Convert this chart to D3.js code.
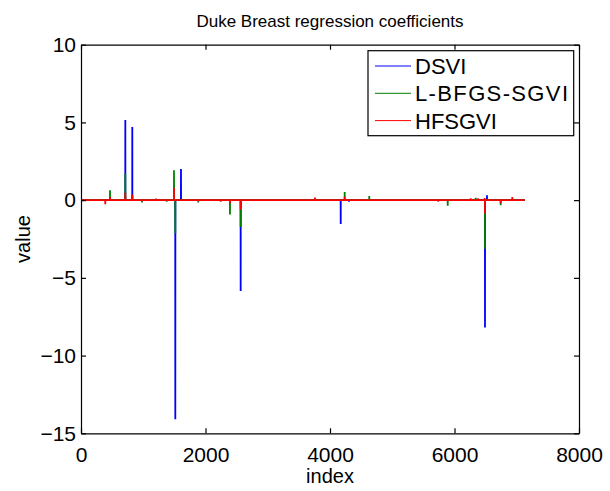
<!DOCTYPE html>
<html>
<head>
<meta charset="utf-8">
<script src="https://cdn.jsdelivr.net/npm/d3@7"></script>
<style>
  body { margin: 0; background: #fff; }
  svg { display: block; font-family: "Liberation Sans", Arial, Helvetica, sans-serif; }
</style>
</head>
<body>
<svg id="chart" width="610" height="491"></svg>
<script>
// coefficient spikes, [index, value]; everything else is zero
const nGenes = 7129;

const dsvi = [
    [712, 5.15], [824, 4.70], [1515, -14.1], [1606, 2.0], [2565, -5.85],
    [4172, -1.54], [4305, -0.1], [6490, -8.19], [6522, 0.31]
];

const lbfgs = [
    [466, 0.64], [712, 1.72], [824, 0.3], [980, -0.15], [1377, -0.1], [1494, 1.93],
    [1515, -2.14], [1884, -0.15], [2393, -0.92], [2565, -1.73], [4236, 0.52],
    [4631, 0.26], [5891, -0.36], [6341, 0.15], [6490, -3.13], [6742, -0.32]
];

const hfsgvi = [
    [390, -0.26], [466, 0.2], [712, 0.47], [824, 0.37], [1205, 0.1], [1494, 0.8],
    [2244, -0.1], [2393, -0.2], [2565, -0.6], [3759, 0.17], [4236, 0.22],
    [5740, -0.1], [6260, 0.12], [6378, 0.12], [6484, 0.13], [6490, -0.86],
    [6742, -0.2], [6928, 0.2]
];

const seriesNames = ['DSVI', 'L-BFGS-SGVI', 'HFSGVI'];
const seriesColors = ['#0000ff', '#008000', '#ff0000'];
const seriesData = [dsvi, lbfgs, hfsgvi];

const xTicks = [0, 2000, 4000, 6000, 8000];
const yTicks = [-15, -10, -5, 0, 5, 10];

const margin = { left: 81, right: 31, top: 44.7, bottom: 57.7 };
const width = 610, height = 491;

const svg = d3.select('#chart');

const x = d3.scaleLinear()
    .domain([0, 8000])
    .range([margin.left, width - margin.right]);

const y = d3.scaleLinear()
    .domain([-15, 10])
    .range([height - margin.bottom, margin.top]);

// spikes -> polyline through zeros, like plot(w)
function toPoints(spikes) {
    const pts = [[1, 0]];
    spikes.forEach(([i, v]) => {
        pts.push([i - 1, 0], [i, v], [i + 1, 0]);
    });
    pts.push([nGenes, 0]);
    return pts;
}

const line = d3.line()
    .x(d => x(d[0]))
    .y(d => y(d[1]));

const plot = svg.append('g');
seriesData.forEach((s, k) => {
    plot.append('path')
        .datum(toPoints(s))
        .attr('d', line)
        .attr('fill', 'none')
        .attr('stroke', seriesColors[k])
        .attr('stroke-width', 1.8);
});

// axes, ticks pointing inward like matlab
const fmt = d => d < 0 ? '\u2212' + Math.abs(d) : String(d);

svg.append('g')
    .attr('transform', `translate(0,${y(-15)})`)
    .call(d3.axisBottom(x).tickValues(xTicks).tickFormat(fmt).tickSizeInner(-5).tickSizeOuter(0).tickPadding(14));
svg.append('g')
    .attr('transform', `translate(0,${y(10)})`)
    .call(d3.axisTop(x).tickValues(xTicks).tickFormat('').tickSizeInner(-5).tickSizeOuter(0));
svg.append('g')
    .attr('transform', `translate(${x(0)},0)`)
    .call(d3.axisLeft(y).tickValues(yTicks).tickFormat(fmt).tickSizeInner(-5).tickSizeOuter(0).tickPadding(5));
svg.append('g')
    .attr('transform', `translate(${x(8000)},0)`)
    .call(d3.axisRight(y).tickValues(yTicks).tickFormat('').tickSizeInner(-5).tickSizeOuter(0));

svg.selectAll('.tick text')
    .style('font-size', '21px')
    .style('font-family', '"Liberation Sans", Arial, sans-serif')
    .attr('fill', '#000');
svg.selectAll('.domain, .tick line').attr('stroke', '#000').attr('stroke-width', 1.2);

// labels
svg.append('text')
    .attr('x', (x(0) + x(8000)) / 2)
    .attr('y', 27)
    .attr('text-anchor', 'middle')
    .style('font-size', '17px')
    .text('Duke Breast regression coefficients');

svg.append('text')
    .attr('x', (x(0) + x(8000)) / 2)
    .attr('y', 483)
    .attr('text-anchor', 'middle')
    .style('font-size', '20px')
    .text('index');

svg.append('text')
    .attr('transform', `translate(30,${(y(-15) + y(10)) / 2}) rotate(-90)`)
    .attr('text-anchor', 'middle')
    .style('font-size', '20px')
    .text('value');

// legend
const legend = svg.append('g');
legend.append('rect')
    .attr('x', 368).attr('y', 50.7)
    .attr('width', 205.7).attr('height', 85)
    .attr('fill', '#fff')
    .attr('stroke', '#000')
    .attr('stroke-width', 1.2);

seriesNames.forEach((name, k) => {
    const cy = 66 + k * 27.3;
    legend.append('line')
        .attr('x1', 375).attr('x2', 411)
        .attr('y1', cy).attr('y2', cy)
        .attr('stroke', seriesColors[k])
        .attr('stroke-width', 1);
    const t = legend.append('text')
        .attr('x', 415)
        .attr('y', cy)
        .attr('dy', '0.36em')
        .style('font-size', '22px')
        .text(name);
    // matlab draws the hyphens wide
    if (name.includes('-')) t.attr('textLength', 153).attr('lengthAdjust', 'spacing');
});
</script>
</body>
</html>
